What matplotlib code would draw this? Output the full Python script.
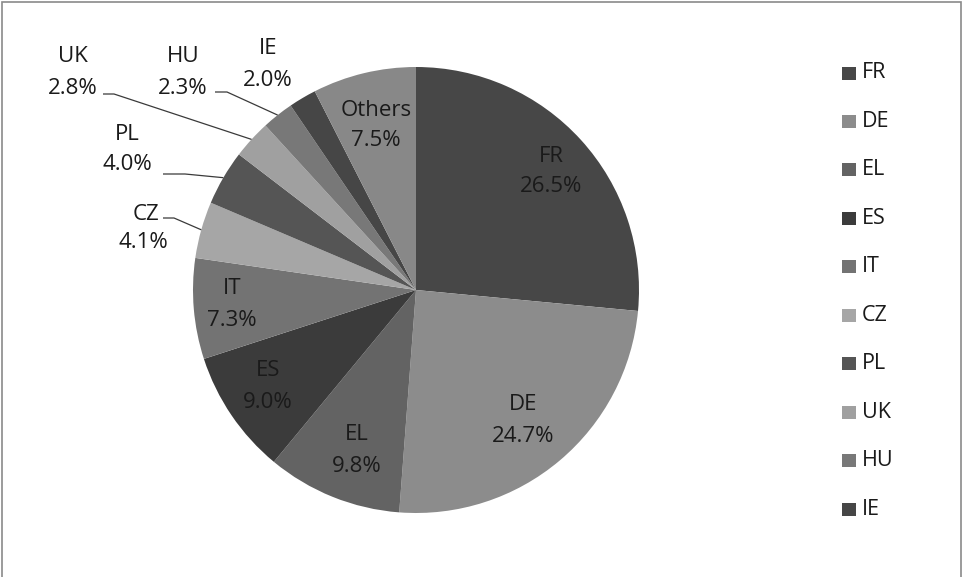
import matplotlib
matplotlib.use("Agg")
import matplotlib.pyplot as plt
from matplotlib.patches import Rectangle
import numpy as np

# Share by country (%), clockwise from 12 o'clock
countries = ["FR", "DE", "EL", "ES", "IT", "CZ", "PL", "UK", "HU", "IE", "Others"]
shares = [26.5, 24.7, 9.8, 9.0, 7.3, 4.1, 4.0, 2.8, 2.3, 2.0, 7.5]
colors = ["#474747", "#8c8c8c", "#636363", "#3b3b3b", "#737373", "#a6a6a6",
          "#555555", "#a0a0a0", "#787878", "#464646", "#888888"]
legend_names = countries[:-1]

W, H = 963, 577
plt.rcParams['font.family'] = ['Open Sans', 'DejaVu Sans']

fig = plt.figure(figsize=(W / 100, H / 100), dpi=100)
ax = fig.add_axes([0, 0, 1, 1])


def Y(y):
    # pixel row -> data y (y axis points up)
    return H - y


cx, cy, r = 416, 290, 223
wedges, _ = ax.pie(shares, colors=colors, startangle=90, counterclock=False,
                   center=(cx, Y(cy)), radius=r, frame=True,
                   wedgeprops=dict(linewidth=0))

ax.set_xlim(0, W)
ax.set_ylim(0, H)
ax.set_aspect('equal', adjustable='box')
ax.axis('off')

txt = dict(fontsize=16, color="#1a1a1a", ha="center", va="center")

# label positions: (x, name y, value y)
label_pos = {
    "FR": (551, 157, 187), "DE": (523, 405, 436), "EL": (357, 435, 467),
    "ES": (268, 371, 402), "IT": (232, 288, 320), "Others": (376, 110, 141),
    "CZ": (143, 214, 243), "PL": (127, 134, 165), "UK": (73, 57, 88),
    "HU": (183, 57, 88), "IE": (268, 48, 80),
}
# leader lines: (start x, end of horizontal x, y)
leaders = {
    "CZ": (163, 174, 218), "PL": (163, 185, 174),
    "UK": (103, 114, 94), "HU": (215, 227, 92),
}

for w, name, val in zip(wedges, countries, shares):
    x, y1, y2 = label_pos[name]
    xn = x + 3 if name == "CZ" else x
    ax.text(xn, Y(y1), name, **txt)
    ax.text(x, Y(y2), f"{val:.1f}%", **txt)
    if name in leaders:
        x0, x1, ly = leaders[name]
        mid = np.deg2rad((w.theta1 + w.theta2) / 2)
        ex, ey = cx + r * np.cos(mid), Y(cy) + r * np.sin(mid)
        ax.plot([x0, x1, ex], [Y(ly), Y(ly), ey], color="#3a3a3a", lw=0.9,
                solid_capstyle="butt")

# legend
for i, name in enumerate(legend_names):
    yy = 73 + i * 48.45
    ax.add_patch(Rectangle((842, Y(yy) - 6.5), 14, 13, facecolor=colors[i],
                           edgecolor="none"))
    ax.text(862, Y(yy), name, fontsize=15.5, color="#1a1a1a", ha="left",
            va="center")

# outer frame
fig.patches.append(Rectangle((2 / W, -0.01), (W - 4) / W, 1 - 1.5 / H + 0.01,
                             transform=fig.transFigure, fill=False,
                             edgecolor="#8a8a8a", lw=1.2))

fig.savefig("out.png", dpi=100)
